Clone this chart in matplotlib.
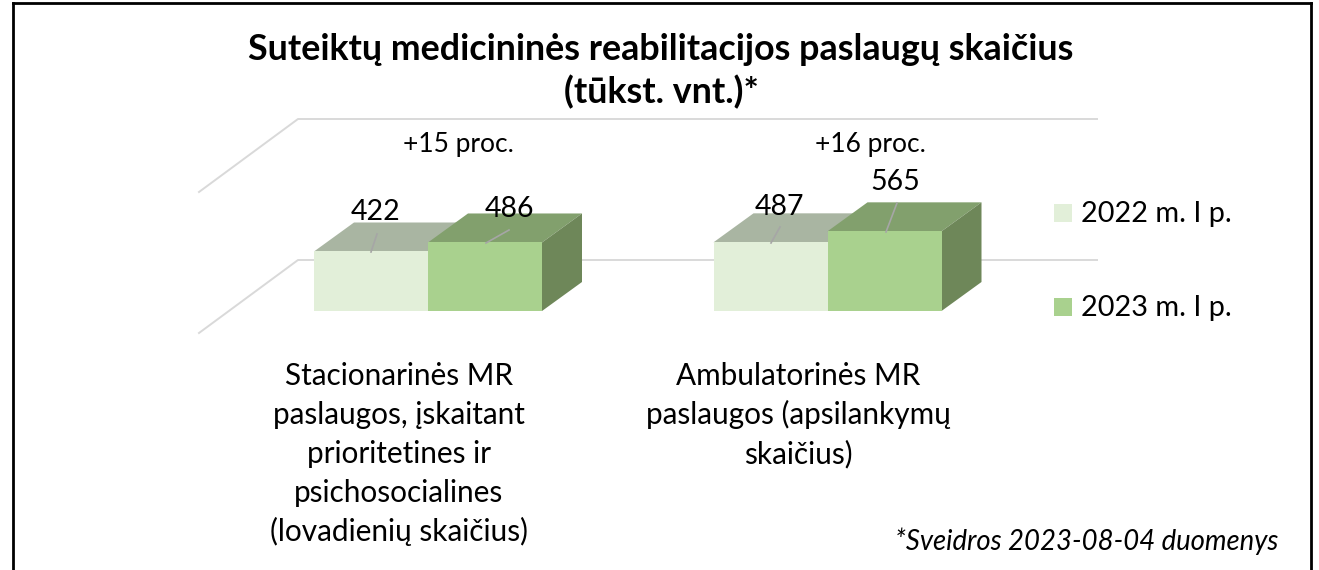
import matplotlib
matplotlib.use("Agg")
import matplotlib.pyplot as plt
from matplotlib.patches import Polygon, Rectangle

plt.rcParams["font.family"] = ["Lato", "DejaVu Sans"]

# ============================================================
# DATA
# ============================================================
categories = [
    ["Stacionarinės MR", "paslaugos, įskaitant", "prioritetines ir", "psichosocialines", "(lovadienių skaičius)"],
    ["Ambulatorinės MR", "paslaugos (apsilankymų", "skaičius)"],
]
series_names = ["2022 m. I p.", "2023 m. I p."]
values_2022 = [422, 487]
values_2023 = [486, 565]
changes = ["+15 proc.", "+16 proc."]
axis_values = [0, 1000]

TITLE = ["Suteiktų medicininės reabilitacijos paslaugų skaičius", "(tūkst. vnt.)*"]
NOTE = "*Sveidros 2023-08-04 duomenys"

# ============================================================
# LAYOUT (pixels of the 1319x570 picture)
# ============================================================
W, H = 1319, 570
PX_PER_CAT = 399.5
PX_PER_UNIT = 0.141
CAT0_X = 428
BASE_Y = 311

BAR_W = 114 / PX_PER_CAT
DEPTH_X = 40 / PX_PER_CAT
DEPTH_Y = 29 / PX_PER_UNIT

FRONT = ["#E2EFD9", "#A9D18E"]
TOP = ["#A9B5A2", "#82A06D"]
SIDE = "#6E8759"
GRID = "#D9D9D9"
LEADER = "#A6A6A6"


def fx(px):
    return px / W


def fy(py):
    return 1 - py / H


fig = plt.figure(figsize=(W / 100, H / 100), dpi=100)
ax = fig.add_axes([0, 0, 1, 1])
ax.set_xlim(-CAT0_X / PX_PER_CAT, (W - CAT0_X) / PX_PER_CAT)
ax.set_ylim((BASE_Y - H) / PX_PER_UNIT, BASE_Y / PX_PER_UNIT)
ax.axis("off")

# ============================================================
# GRID (floor and back wall)
# ============================================================
grid_x0 = -229 / PX_PER_CAT
grid_x1 = -130 / PX_PER_CAT
grid_x2 = 669 / PX_PER_CAT
for v in axis_values:
    y_back = v + 51 / PX_PER_UNIT
    y_front = v - 22 / PX_PER_UNIT
    ax.plot([grid_x0, grid_x1, grid_x2], [y_front, y_back, y_back], color=GRID, lw=1.4, zorder=1)

# ============================================================
# BARS
# ============================================================
for i in range(len(categories)):
    for s, vals in enumerate([values_2022, values_2023]):
        x0 = i + (s - 1) * BAR_W
        x1 = x0 + BAR_W
        v = vals[i]
        ax.add_patch(Polygon([(x0, v), (x1, v), (x1 + DEPTH_X, v + DEPTH_Y), (x0 + DEPTH_X, v + DEPTH_Y)],
                             facecolor=TOP[s], edgecolor="none", zorder=2 + s))
        if s == 1:
            ax.add_patch(Polygon([(x1, 0), (x1 + DEPTH_X, DEPTH_Y), (x1 + DEPTH_X, v + DEPTH_Y), (x1, v)],
                                 facecolor=SIDE, edgecolor="none", zorder=2 + s))
        ax.bar(x0, v, width=BAR_W, align="edge", color=FRONT[s], zorder=2 + s)

# ============================================================
# LABELS
# ============================================================
label_px = {422: (376, 220), 486: (509, 217), 487: (779, 215), 565: (895, 190)}
leader_px = {422: ((371, 252), (377, 234)), 486: ((486, 243), (509, 230)),
             487: ((771, 243), (780, 227)), 565: ((886, 232), (897, 203))}
for v in values_2022 + values_2023:
    (xa, ya), (xb, yb) = leader_px[v]
    fig.add_artist(plt.Line2D([fx(xa), fx(xb)], [fy(ya), fy(yb)], color=LEADER, lw=1.2, zorder=6))
    fig.text(fx(label_px[v][0]), fy(label_px[v][1]), str(v), fontsize=20.5, ha="center", va="baseline",
             color="black", zorder=7)

for txt, px in zip(changes, [458, 870]):
    fig.text(fx(px), fy(152), txt, fontsize=19, ha="center", va="baseline", color="black")

for line, py in zip(TITLE, [60, 103]):
    fig.text(fx(661), fy(py), line, fontsize=25.8, fontweight="bold", ha="center", va="baseline", color="black")

for cat, px in zip(categories, [399, 798]):
    for j, line in enumerate(cat):
        fig.text(fx(px), fy(385 + 39 * j), line, fontsize=21.4, ha="center", va="baseline", color="black")

for name, col, py in zip(series_names, FRONT, [222, 316]):
    fig.add_artist(Rectangle((fx(1054), fy(py)), 18 / W, 18 / H, transform=fig.transFigure,
                             facecolor=col, edgecolor="none"))
    fig.text(fx(1081), fy(py), name, fontsize=20.8, ha="left", va="baseline", color="black")

fig.text(fx(1278), fy(550), NOTE, fontsize=19.8, style="italic", ha="right", va="baseline", color="black")

# frame
for xs, ys in [((13, 13), (3, 570)), ((13, 1311), (3, 3)), ((1311, 1311), (3, 570))]:
    fig.add_artist(plt.Line2D([fx(x) for x in xs], [fy(y) for y in ys], color="black", lw=2))

fig.savefig("out.png", dpi=100)
plt.close()
